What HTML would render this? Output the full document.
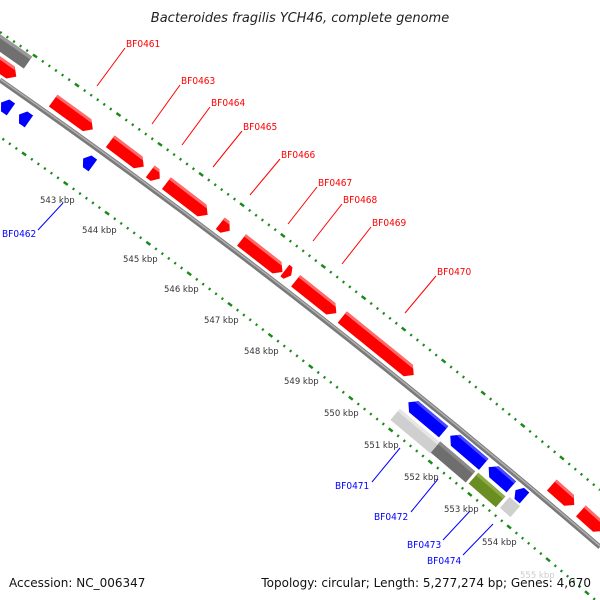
<!DOCTYPE html>
<html><head><meta charset="utf-8"><style>
html,body{margin:0;padding:0;background:#fff;}
svg{display:block;}
.t{font-family:"DejaVu Sans Condensed","DejaVu Sans","Liberation Sans",sans-serif;font-size:10px;}
.k{font-family:"DejaVu Sans","Liberation Sans",sans-serif;font-size:8.5px;fill:#333;}
</style></head><body>
<svg width="600" height="600" viewBox="0 0 600 600" xmlns="http://www.w3.org/2000/svg">
<!-- dotted lines -->
<path d="M0,32 Q300,236 600,490" fill="none" stroke="#1a8a1a" stroke-width="2.5" stroke-dasharray="5 6 2 6 2 6 2 6 2 6 2 6" stroke-dashoffset="11"/>
<path d="M0,137 Q300,346 600,604" fill="none" stroke="#1a8a1a" stroke-width="2.5" stroke-dasharray="5 6 2 6 2 6 2 6 2 6 2 6" stroke-dashoffset="24"/>
<!-- backbone -->
<path d="M0,80 Q300,289 600,547" fill="none" stroke="#7a7a7a" stroke-width="5"/>
<path d="M0,79 Q300,288 600,546" fill="none" stroke="#b0b0b0" stroke-width="1.5"/>

<g transform="translate(10,50) rotate(35) scale(1,1.12)"><rect x="-22" y="-6.5" width="44" height="13" fill="#707070"/><rect x="-22" y="-6.5" width="44" height="3" fill="#999"/></g>

<g fill="#ff0000">
<g transform="translate(4,68) rotate(35) scale(1,1.12)"><polygon points="-15,-6.5 8,-6.5 15,0 8,6.5 -15,6.5"/><polygon points="-15,-6.5 8,-6.5 10,-4 -15,-4" fill="#ff6a6a"/></g>
<g transform="translate(73,115) rotate(36) scale(1,1.12)"><polygon points="-24.5,-6.5 17.5,-6.5 24.5,0 17.5,6.5 -24.5,6.5"/><polygon points="-24.5,-6.5 17.5,-6.5 20,-4 -24.5,-4" fill="#ff6a6a"/></g>
<g transform="translate(127,154) rotate(37) scale(1,1.12)"><polygon points="-21,-6.5 14,-6.5 21,0 14,6.5 -21,6.5"/><polygon points="-21,-6.5 14,-6.5 16.5,-4 -21,-4" fill="#ff6a6a"/></g>
<g transform="translate(155,175) rotate(37) scale(1,1.12)"><polygon points="-6,-6.5 0,-6.5 6,0 0,6.5 -6,6.5"/><polygon points="-6,-6.5 0,-6.5 2.5,-4 -6,-4" fill="#ff6a6a"/></g>
<g transform="translate(187,199) rotate(37.5) scale(1,1.12)"><polygon points="-26,-6.5 19,-6.5 26,0 19,6.5 -26,6.5"/><polygon points="-26,-6.5 19,-6.5 21.5,-4 -26,-4" fill="#ff6a6a"/></g>
<g transform="translate(225,227) rotate(38) scale(1,1.12)"><polygon points="-6,-6.5 0,-6.5 6,0 0,6.5 -6,6.5"/><polygon points="-6,-6.5 0,-6.5 2.5,-4 -6,-4" fill="#ff6a6a"/></g>
<g transform="translate(262,256) rotate(38) scale(1,1.12)"><polygon points="-26,-6.5 19,-6.5 26,0 19,6.5 -26,6.5"/><polygon points="-26,-6.5 19,-6.5 21.5,-4 -26,-4" fill="#ff6a6a"/></g>
<g transform="translate(288,273) rotate(38) scale(1,1.12)"><polygon points="-4,-6.5 0,-6.5 4,0 0,6.5 -4,6.5"/></g>
<g transform="translate(316,297) rotate(38.5) scale(1,1.12)"><polygon points="-26,-6.5 19,-6.5 26,0 19,6.5 -26,6.5"/><polygon points="-26,-6.5 19,-6.5 21.5,-4 -26,-4" fill="#ff6a6a"/></g>
<g transform="translate(378,346) rotate(39) scale(1,1.12)"><polygon points="-46,-6.5 39,-6.5 46,0 39,6.5 -46,6.5"/><polygon points="-46,-6.5 39,-6.5 41.5,-4 -46,-4" fill="#ff6a6a"/></g>
<g transform="translate(563,495) rotate(41.5) scale(1,1.12)"><polygon points="-15,-6.5 8,-6.5 15,0 8,6.5 -15,6.5"/><polygon points="-15,-6.5 8,-6.5 10.5,-4 -15,-4" fill="#ff6a6a"/></g>
<g transform="translate(592,521) rotate(42) scale(1,1.12)"><polygon points="-15,-6.5 8,-6.5 15,0 8,6.5 -15,6.5"/><polygon points="-15,-6.5 8,-6.5 10.5,-4 -15,-4" fill="#ff6a6a"/></g>
</g>

<g fill="#0000ff">
<g transform="translate(6,106) rotate(35) scale(1,1.12)"><polygon points="6,-6.5 -1,-6.5 -6,0 -1,6.5 6,6.5"/></g>
<g transform="translate(24,118) rotate(35) scale(1,1.12)"><polygon points="6,-6.5 -1,-6.5 -6,0 -1,6.5 6,6.5"/></g>
<g transform="translate(88,162) rotate(36) scale(1,1.12)"><polygon points="6,-6.5 -1,-6.5 -6,0 -1,6.5 6,6.5"/></g>
<g transform="translate(426,417) rotate(40) scale(1,1.12)"><polygon points="23,-6.5 -16,-6.5 -23,0 -16,6.5 23,6.5"/><polygon points="23,-6.5 -16,-6.5 -18.5,-4 23,-4" fill="#4a4aff"/></g>
<g transform="translate(467,450) rotate(40.5) scale(1,1.12)"><polygon points="22,-6.5 -15,-6.5 -22,0 -15,6.5 22,6.5"/><polygon points="22,-6.5 -15,-6.5 -17.5,-4 22,-4" fill="#4a4aff"/></g>
<g transform="translate(500,477) rotate(41) scale(1,1.12)"><polygon points="15,-6.5 -8,-6.5 -15,0 -8,6.5 15,6.5"/><polygon points="15,-6.5 -8,-6.5 -10.5,-4 15,-4" fill="#4a4aff"/></g>
<g transform="translate(520,494) rotate(41) scale(1,1.12)"><polygon points="6,-6.5 -1,-6.5 -6,0 -1,6.5 6,6.5"/></g>
</g>

<g transform="translate(415,431) rotate(40) scale(1,1.12)"><rect x="-26" y="-6.5" width="52" height="13" fill="#cfcfcf"/><rect x="-26" y="-6.5" width="52" height="3" fill="#e6e6e6"/></g>
<g transform="translate(453,462) rotate(40.5) scale(1,1.12)"><rect x="-23" y="-6.5" width="46" height="13" fill="#6e6e6e"/><rect x="-23" y="-6.5" width="46" height="3" fill="#8a8a8a"/></g>
<g transform="translate(487,490) rotate(41) scale(1,1.12)"><rect x="-18" y="-6.5" width="36" height="13" fill="#6b8e23"/><rect x="-18" y="-6.5" width="36" height="3" fill="#8aab45"/></g>
<g transform="translate(510,507) rotate(41) scale(1,1.12)"><rect x="-7" y="-6.5" width="14" height="13" fill="#cfcfcf"/></g>

<g stroke="#ff0000" stroke-width="1">
<line x1="125" y1="48" x2="97" y2="86"/>
<line x1="180" y1="85" x2="152" y2="124"/>
<line x1="210" y1="107" x2="182" y2="145"/>
<line x1="242" y1="131" x2="213" y2="167"/>
<line x1="280" y1="159" x2="250" y2="195"/>
<line x1="317" y1="187" x2="288" y2="224"/>
<line x1="342" y1="204" x2="313" y2="241"/>
<line x1="371" y1="227" x2="342" y2="264"/>
<line x1="436" y1="276" x2="405" y2="313"/>
</g>
<g stroke="#0000ff" stroke-width="1">
<line x1="38" y1="230" x2="63" y2="203"/>
<line x1="372" y1="482" x2="400" y2="448"/>
<line x1="411" y1="512" x2="438" y2="479"/>
<line x1="443" y1="540" x2="470" y2="511"/>
<line x1="463" y1="555" x2="493" y2="524"/>
</g>

<g class="t" fill="#ff0000">
<text x="126" y="47">BF0461</text>
<text x="181" y="84">BF0463</text>
<text x="211" y="106">BF0464</text>
<text x="243" y="130">BF0465</text>
<text x="281" y="158">BF0466</text>
<text x="318" y="186">BF0467</text>
<text x="343" y="203">BF0468</text>
<text x="372" y="226">BF0469</text>
<text x="437" y="275">BF0470</text>
</g>
<g class="t" fill="#0000ff">
<text x="2" y="237">BF0462</text>
<text x="335" y="489">BF0471</text>
<text x="374" y="520">BF0472</text>
<text x="407" y="548">BF0473</text>
<text x="427" y="564">BF0474</text>
</g>
<g class="k">
<text x="40" y="203">543 kbp</text>
<text x="82" y="233">544 kbp</text>
<text x="123" y="262">545 kbp</text>
<text x="164" y="292">546 kbp</text>
<text x="204" y="323">547 kbp</text>
<text x="244" y="354">548 kbp</text>
<text x="284" y="384">549 kbp</text>
<text x="324" y="416">550 kbp</text>
<text x="364" y="448">551 kbp</text>
<text x="404" y="480">552 kbp</text>
<text x="444" y="512">553 kbp</text>
<text x="482" y="545">554 kbp</text>
<text x="520" y="578" fill="#ccc">555 kbp</text>
</g>

<text x="300" y="22" text-anchor="middle" font-family="DejaVu Sans,Liberation Sans,sans-serif" font-style="italic" font-size="13" fill="#222">Bacteroides fragilis YCH46, complete genome</text>
<text x="9" y="587" font-family="DejaVu Sans,Liberation Sans,sans-serif" font-size="12" fill="#111">Accession: NC_006347</text>
<text x="591" y="587" text-anchor="end" font-family="DejaVu Sans,Liberation Sans,sans-serif" font-size="12" fill="#111">Topology: circular; Length: 5,277,274 bp; Genes: 4,670</text>
</svg>
</body></html>
